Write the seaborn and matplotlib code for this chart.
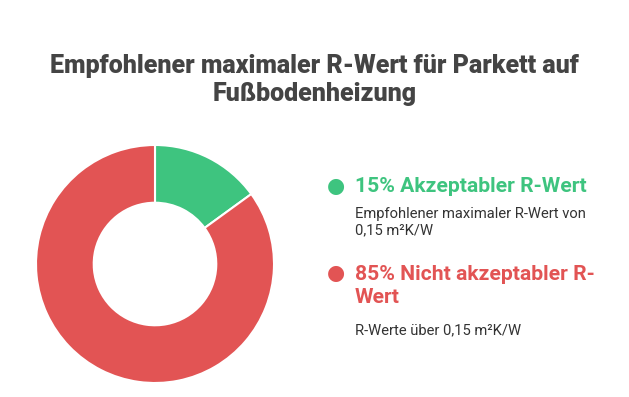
import matplotlib
matplotlib.use("Agg")
import matplotlib.pyplot as plt
import seaborn as sns

categories = ["Akzeptabler R-Wert", "Nicht akzeptabler R-Wert"]
values = [15, 85]
headings = ["15% Akzeptabler R-Wert", "85% Nicht akzeptabler R-\nWert"]
descriptions = ["Empfohlener maximaler R-Wert von\n0,15 m²K/W", "R-Werte über 0,15 m²K/W"]
colors = ["#3EC47F", "#E25454"]
title = "Empfohlener maximaler R-Wert für Parkett auf\nFußbodenheizung"

sns.set_theme(style="white")
plt.rcParams["font.family"] = ["Roboto", "DejaVu Sans"]

W, H = 629, 397
fig = plt.figure(figsize=(W / 100, H / 100), dpi=100)
fig.patch.set_facecolor("white")

def fx(px):
    return px / W

def fy(py):
    return 1 - py / H

# donut
cx, cy, r = 155, 264, 119
ax = fig.add_axes([fx(cx - r), fy(cy + r), 2 * r / W, 2 * r / H])
ax.pie(values, colors=colors, startangle=90, counterclock=False,
       wedgeprops=dict(width=0.485, edgecolor="white", linewidth=1.5), radius=1)
ax.set_xlim(-1, 1)
ax.set_ylim(-1, 1)
ax.set_aspect("equal")
ax.axis("off")

# title
fig.text(0.5, fy(80), title, ha="center", va="center", fontsize=18,
         fontweight="heavy", color="#444444", linespacing=1.2)

# legend
dot_y = [186, 273]
head_y = [186, 286]
desc_y = [222, 330]
for i in range(len(categories)):
    fig.text(fx(336), fy(dot_y[i]), "●", ha="center", va="center",
             fontsize=15, color=colors[i], family="DejaVu Sans")
    fig.text(fx(355), fy(head_y[i]), headings[i], ha="left", va="center",
             fontsize=15.2, fontweight="bold", color=colors[i], linespacing=1.32)
    fig.text(fx(355), fy(desc_y[i]), descriptions[i], ha="left", va="center",
             fontsize=10.6, color="#333333", linespacing=1.25)

fig.savefig("out.png", dpi=100, facecolor="white")
